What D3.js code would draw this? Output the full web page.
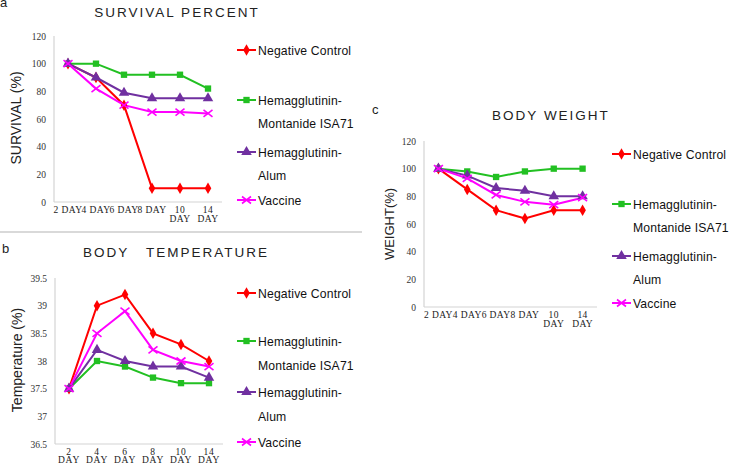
<!DOCTYPE html>
<html><head><meta charset="utf-8">
<script src="https://cdn.jsdelivr.net/npm/d3@7"></script>
<style>
body{margin:0;background:#fff}
svg{display:block}
text{white-space:pre}
</style></head>
<body>
<svg id="c" width="729" height="465"></svg>
<script>
// ---- data ----
const days = ["2 DAY","4 DAY","6 DAY","8 DAY","10 DAY","14 DAY"];
const seriesNames = ["Negative Control","Hemagglutinin-Montanide ISA71","Hemagglutinin-Alum","Vaccine"];
const seriesColors = ["#ff0000","#22c022","#7030a0","#ff00ff"];
const seriesSymbols = ["diamond","square","triangle","cross"];

const survivalNeg  = [100,90,70,10,10,10];
const survivalHM   = [100,100,92,92,92,82];
const survivalHA   = [100,90,79,75,75,75];
const survivalVac  = [100,82,70,65,65,64];
const survivalTicks = [0,20,40,60,80,100,120];

const tempNeg = [37.5,39.0,39.2,38.5,38.3,38.0];
const tempHM  = [37.5,38.0,37.9,37.7,37.6,37.6];
const tempHA  = [37.5,38.2,38.0,37.9,37.9,37.7];
const tempVac = [37.5,38.5,38.9,38.2,38.0,37.9];
const tempTicks = [36.5,37,37.5,38,38.5,39,39.5];

const weightNeg = [100,85,70,64,70,70];
const weightHM  = [100,98,94,98,100,100];
const weightHA  = [100,95,86,84,80,80];
const weightVac = [100,93,81,76,74,79];
const weightTicks = [0,20,40,60,80,100,120];

const titles = ["SURVIVAL PERCENT","BODY   TEMPERATURE","BODY WEIGHT"];
const yTitles = ["SURVIVAL (%)","Temperature (%)","WEIGHT(%)"];
const panelLetters = ["a","b","c"];

// ---- drawing ----
const svg = d3.select("#c");

function drawMarker(g, type, x, y, color){
  if(type==="cross"){
    const s=4.5, t=3.5;
    g.append("path").attr("d",`M${x-s},${y-t}L${x+s},${y+t}M${x-s},${y+t}L${x+s},${y-t}`)
      .attr("stroke",color).attr("stroke-width",1.6).attr("fill","none");
  } else {
    const sym = {diamond:d3.symbolDiamond, square:d3.symbolSquare, triangle:d3.symbolTriangle}[type];
    const size = {diamond:38, square:40, triangle:48}[type];
    g.append("path").attr("d", d3.symbol(sym, size)())
      .attr("transform",`translate(${x},${y})`).attr("fill",color);
  }
}

function panel(cfg){
  const g = svg.append("g");
  const x = d3.scaleBand().domain(days).range([cfg.x0,cfg.x1]);
  const y = d3.scaleLinear().domain(cfg.domain).range([cfg.yBot,cfg.yTop]);

  // axis lines
  g.append("line").attr("x1",cfg.x0).attr("x2",cfg.x0).attr("y1",cfg.yTop).attr("y2",cfg.yBot)
    .attr("stroke","#d4d4d4").attr("stroke-width",1.2);
  g.append("line").attr("x1",cfg.x0).attr("x2",cfg.x1).attr("y1",cfg.yBot).attr("y2",cfg.yBot)
    .attr("stroke","#d4d4d4").attr("stroke-width",1.2);

  // y axis ticks via d3 axis
  const ya = g.append("g").attr("transform",`translate(${cfg.x0-8},0)`)
    .call(d3.axisLeft(y).tickValues(cfg.ticks).tickSize(0).tickPadding(0).tickFormat(d3.format("")));
  ya.select(".domain").remove();
  ya.selectAll("text").attr("font-family","Liberation Serif").attr("font-size",9.5).attr("fill","#333");

  // x axis labels via d3 axis, wrapped
  const xa = g.append("g").attr("transform",`translate(0,${cfg.yBot})`)
    .call(d3.axisBottom(x).tickSize(0).tickPadding(0));
  xa.select(".domain").remove();
  xa.selectAll("text").each(function(d){
    const t = d3.select(this);
    t.text(null).attr("font-family","Liberation Serif").attr("font-size",cfg.xFont)
      .attr("letter-spacing",cfg.xLs).attr("fill","#222").attr("y",0).attr("dy",null);
    const parts = d.split(" ");
    const wrap = cfg.wrapAll || parseInt(parts[0])>=10;
    if(wrap){
      parts.forEach((p,i)=>t.append("tspan").attr("x",0).attr("y",cfg.xLab1 + i*cfg.xLineH).text(p));
    } else {
      t.append("tspan").attr("x",0).attr("y",cfg.xLab1).text(d);
    }
  });

  // lines and markers
  const line = d3.line().x((d,i)=>x(days[i])+x.bandwidth()/2).y(d=>y(d));
  cfg.series.forEach((vals,si)=>{
    g.append("path").attr("d",line(vals)).attr("fill","none")
      .attr("stroke",seriesColors[si]).attr("stroke-width",2);
  });
  cfg.series.forEach((vals,si)=>{
    vals.forEach((v,i)=>drawMarker(g,seriesSymbols[si],x(days[i])+x.bandwidth()/2,y(v),seriesColors[si]));
  });

  // titles
  g.append("text").attr("x",cfg.titleX).attr("y",cfg.titleY).attr("text-anchor","middle")
    .attr("font-family","Liberation Sans").attr("font-size",13.5).attr("letter-spacing",2)
    .attr("fill","#222").text(titles[cfg.idx]);
  g.append("text").attr("transform",`translate(${cfg.ytX},${cfg.ytY}) rotate(-90)`)
    .attr("text-anchor","middle").attr("font-family","Liberation Sans").attr("font-size",cfg.ytFont)
    .attr("fill","#222").text(yTitles[cfg.idx]);
  g.append("text").attr("x",cfg.letterX).attr("y",cfg.letterY)
    .attr("font-family","Liberation Sans").attr("font-size",13).attr("fill","#222").text(panelLetters[cfg.idx]);

  // legend
  seriesNames.forEach((name,si)=>{
    const ly = cfg.legY[si];
    g.append("line").attr("x1",cfg.legX).attr("x2",cfg.legX+19).attr("y1",ly).attr("y2",ly)
      .attr("stroke",seriesColors[si]).attr("stroke-width",2);
    drawMarker(g,seriesSymbols[si],cfg.legX+9.5,ly,seriesColors[si]);
    const lines = name.includes("-") ? [name.slice(0,name.indexOf("-")+1), name.slice(name.indexOf("-")+1)] : [name];
    lines.forEach((ln,li)=>{
      g.append("text").attr("x",cfg.legX+21).attr("y",ly+4.5+li*cfg.legLH)
        .attr("font-family","Liberation Sans").attr("font-size",12.2).attr("letter-spacing",0.15)
        .attr("fill","#111").text(ln);
    });
  });
}

panel({idx:0, x0:54, x1:222, yTop:36, yBot:202, domain:[0,120], ticks:survivalTicks,
  series:[survivalNeg,survivalHM,survivalHA,survivalVac],
  xFont:9.5, xLs:0.4, xLab1:11, xLineH:9, wrapAll:false,
  titleX:177, titleY:17, ytX:21, ytY:118, ytFont:14,
  letterX:0, letterY:7, legX:237, legY:[50,100,152,200], legLH:23});

panel({idx:1, x0:55, x1:223, yTop:278, yBot:444, domain:[36.5,39.5], ticks:tempTicks,
  series:[tempNeg,tempHM,tempHA,tempVac],
  xFont:9.5, xLs:0.8, xLab1:10.5, xLineH:8.5, wrapAll:true,
  titleX:176, titleY:257, ytX:22, ytY:360, ytFont:14,
  letterX:2, letterY:253, legX:237, legY:[293,341,392,442], legLH:24});

panel({idx:2, x0:424, x1:597, yTop:141, yBot:307, domain:[0,120], ticks:weightTicks,
  series:[weightNeg,weightHM,weightHA,weightVac],
  xFont:9.5, xLs:0.4, xLab1:11, xLineH:9, wrapAll:false,
  titleX:551, titleY:120, ytX:394, ytY:224, ytFont:13,
  letterX:372, letterY:114, legX:612, legY:[154,204,256,303], legLH:23});

// separator
svg.append("line").attr("x1",0).attr("x2",362).attr("y1",232).attr("y2",232)
  .attr("stroke","#d9d9d9").attr("stroke-width",2);
</script>
</body></html>
